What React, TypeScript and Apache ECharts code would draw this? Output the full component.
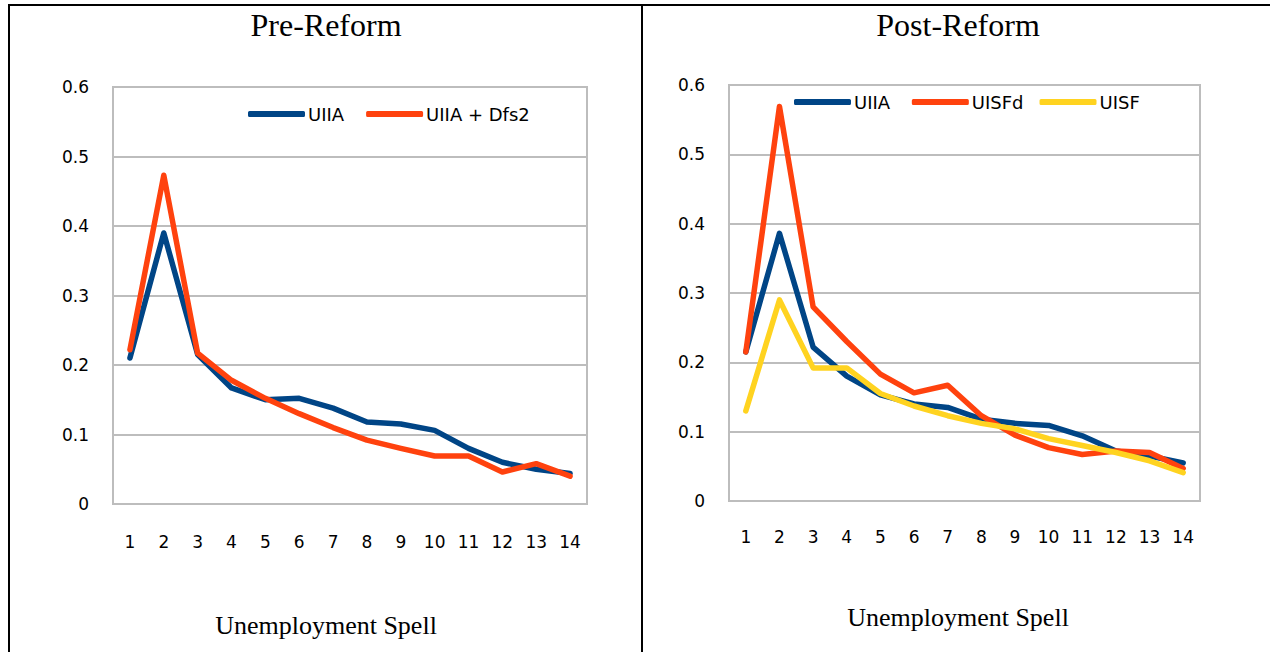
import React, { useEffect, useRef } from "react";
import * as echarts from "echarts";

const spells = ["1", "2", "3", "4", "5", "6", "7", "8", "9", "10", "11", "12", "13", "14"];

const preUIIA = [0.21, 0.39, 0.215, 0.167, 0.15, 0.152, 0.138, 0.118, 0.115, 0.106, 0.08, 0.06, 0.05, 0.044];
const preUIIADfs2 = [0.222, 0.473, 0.217, 0.178, 0.152, 0.13, 0.11, 0.092, 0.08, 0.069, 0.069, 0.046, 0.058, 0.04];

const postUIIA = [0.215, 0.386, 0.222, 0.18, 0.153, 0.14, 0.135, 0.118, 0.112, 0.109, 0.094, 0.072, 0.065, 0.055];
const postUISFd = [0.215, 0.569, 0.28, 0.23, 0.183, 0.156, 0.167, 0.123, 0.095, 0.077, 0.067, 0.072, 0.07, 0.047];
const postUISF = [0.13, 0.29, 0.192, 0.192, 0.155, 0.137, 0.123, 0.112, 0.104, 0.09, 0.08, 0.07, 0.058, 0.041];

const BLUE = "#004586";
const ORANGE = "#ff420e";
const YELLOW = "#ffd320";
const GRIDC = "#bdbdbd";
const SANS = "DejaVu Sans";
const SERIF = "Liberation Serif";

export default function App() {
  const ref = useRef<HTMLDivElement>(null);
  useEffect(() => {
    if (!ref.current) return;
    const chart = echarts.init(ref.current, undefined, { renderer: "svg" });
    const xAxisBase = (gridIndex: number, margin: number) => ({
      type: "category",
      gridIndex,
      data: spells,
      boundaryGap: true,
      axisLine: { show: true, lineStyle: { color: GRIDC, width: 2 } },
      axisTick: { show: false },
      axisLabel: { color: "#000", fontSize: 17, fontFamily: SANS, margin },
      splitLine: { show: false },
    });
    const yAxisBase = (gridIndex: number) => ({
      type: "value",
      gridIndex,
      min: 0,
      max: 0.6,
      interval: 0.1,
      axisLine: { show: true, lineStyle: { color: GRIDC, width: 2 } },
      axisTick: { show: false },
      axisLabel: { color: "#000", fontSize: 17, fontFamily: SANS, margin: 24 },
      splitLine: { show: true, lineStyle: { color: GRIDC, width: 2 } },
    });
    const line = (name: string, data: number[], color: string, idx: number) => ({
      type: "line",
      name,
      data,
      xAxisIndex: idx,
      yAxisIndex: idx,
      showSymbol: false,
      symbol: "none",
      lineStyle: { color, width: 5.5, cap: "round", join: "round" },
      itemStyle: { color },
    });
    chart.setOption({
      animation: false,
      backgroundColor: "#fff",
      grid: [
        { left: 113, top: 87, width: 474, height: 417, show: true, borderColor: GRIDC, borderWidth: 2 },
        { left: 729, top: 85, width: 471, height: 416, show: true, borderColor: GRIDC, borderWidth: 2 },
      ],
      xAxis: [xAxisBase(0, 29), xAxisBase(1, 27)],
      yAxis: [yAxisBase(0), yAxisBase(1)],
      legend: [
        {
          left: 243,
          top: 100,
          itemWidth: 57,
          itemHeight: 6,
          itemGap: 22,
          icon: "roundRect",
          textStyle: { color: "#000", fontSize: 18, fontFamily: SANS, padding: [0, 0, 0, -2] },
          data: ["UIIA", "UIIA + Dfs2"],
        },
        {
          left: 789,
          top: 88,
          itemWidth: 57,
          itemHeight: 6,
          itemGap: 16,
          icon: "roundRect",
          textStyle: { color: "#000", fontSize: 18, fontFamily: SANS, padding: [0, 0, 0, -2] },
          data: ["UIIA ", "UISFd", "UISF"],
        },
      ],
      series: [
        line("UIIA", preUIIA, BLUE, 0),
        line("UIIA + Dfs2", preUIIADfs2, ORANGE, 0),
        line("UIIA ", postUIIA, BLUE, 1),
        line("UISFd", postUISFd, ORANGE, 1),
        line("UISF", postUISF, YELLOW, 1),
      ],
      graphic: [
        { type: "line", shape: { x1: 8, y1: 5, x2: 1270, y2: 5 }, style: { stroke: "#000", lineWidth: 2 } },
        { type: "line", shape: { x1: 9, y1: 4, x2: 9, y2: 652 }, style: { stroke: "#000", lineWidth: 2 } },
        { type: "line", shape: { x1: 642, y1: 4, x2: 642, y2: 652 }, style: { stroke: "#000", lineWidth: 2 } },
        {
          type: "text",
          x: 326,
          y: 25,
          style: { text: "Pre-Reform", font: `32px "${SERIF}"`, fill: "#000", textAlign: "center", textVerticalAlign: "middle" },
        },
        {
          type: "text",
          x: 958,
          y: 25,
          style: { text: "Post-Reform", font: `32px "${SERIF}"`, fill: "#000", textAlign: "center", textVerticalAlign: "middle" },
        },
        {
          type: "text",
          x: 326,
          y: 625,
          style: { text: "Unemployment Spell", font: `26px "${SERIF}"`, fill: "#000", textAlign: "center", textVerticalAlign: "middle" },
        },
        {
          type: "text",
          x: 958,
          y: 617,
          style: { text: "Unemployment Spell", font: `26px "${SERIF}"`, fill: "#000", textAlign: "center", textVerticalAlign: "middle" },
        },
      ],
    });
    return () => chart.dispose();
  }, []);
  return (
    <div
      ref={ref}
      style={{ position: "fixed", left: 0, top: 0, width: 1270, height: 652, background: "#fff" }}
    />
  );
}
